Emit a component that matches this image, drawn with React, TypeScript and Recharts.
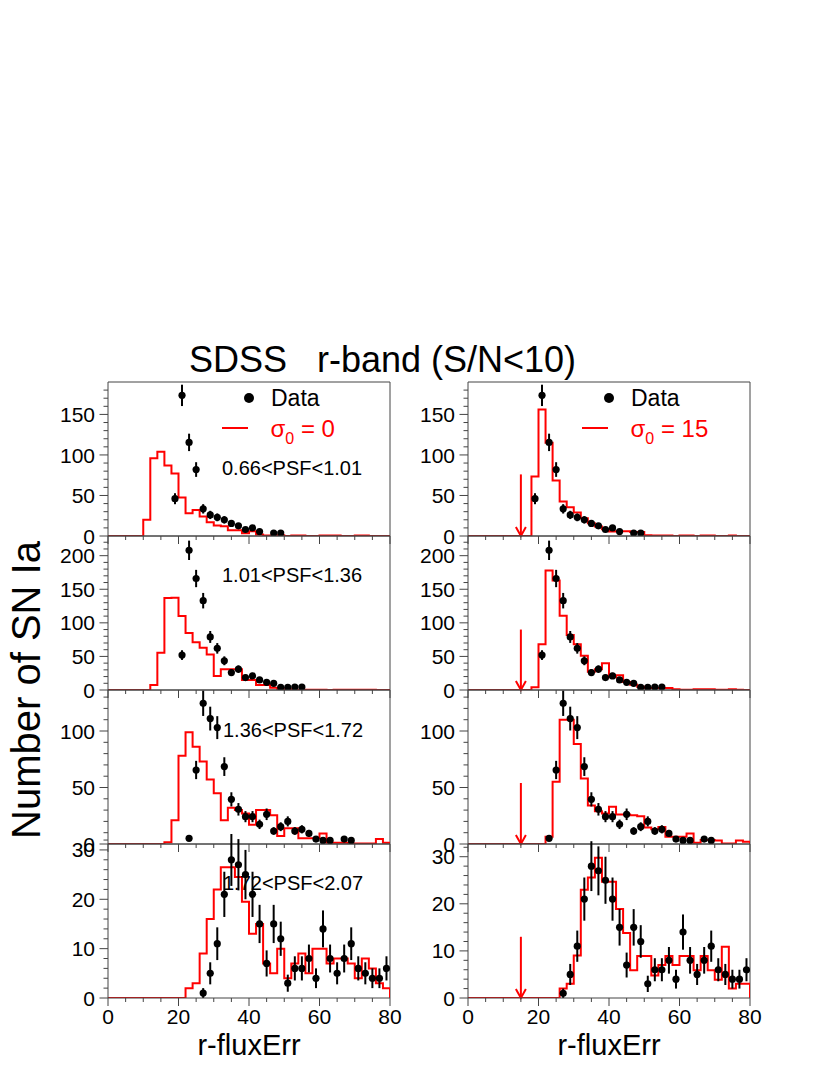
import React from 'react';
import { ComposedChart, Line, Scatter, ErrorBar, XAxis, YAxis, ReferenceLine } from 'recharts';

const FONT = '"Liberation Sans", Arial, Helvetica, sans-serif';

// bin edges (2-unit bins from 0 to 80)
const binEdges = [0, 2, 4, 6, 8, 10, 12, 14, 16, 18, 20, 22, 24, 26, 28, 30, 32, 34, 36, 38, 40,
  42, 44, 46, 48, 50, 52, 54, 56, 58, 60, 62, 64, 66, 68, 70, 72, 74, 76, 78, 80];

const xTicks = [0, 5, 10, 15, 20, 25, 30, 35, 40, 45, 50, 55, 60, 65, 70, 75, 80];
const xMajor = [0, 20, 40, 60, 80];

// ---- Row 1 : 0.66<PSF<1.01 ----
const histRow1Left = [0, 0, 0, 0, 0, 20, 96, 104, 87, 77, 47.5, 28, 32, 24, 17, 13, 12, 7, 7, 3.3,
  6, 2, 0.5, 0.5, 1, 0, 0.5, 0.5, 0, 0, 0.5, 0.5, 0.5, 0, 0, 0.5, 0.5, 0, 0, 0];
const histRow1Right = [0, 0, 0, 0, 0, 0, 0, 0, 0, 73.5, 156, 115, 68.5, 42.5, 35.5, 29, 22, 15.7, 11.6, 8.3,
  5.4, 6, 6, 5, 5, 1, 0.5, 0.5, 0.5, 0, 0.5, 0.5, 0, 0.5, 0.5, 0, 0, 0.5, 0, 0];
const dataRow1X = [19, 21, 23, 25, 27, 29, 31, 33, 35, 37, 39, 41, 43, 47, 49];
const dataRow1Y = [46, 173.5, 115.5, 82, 33.5, 26, 23, 20, 15.5, 12.5, 8, 10, 5.5, 3.7, 3.7];

// ---- Row 2 : 1.01<PSF<1.36 ----
const histRow2Left = [0, 0, 0, 0, 0, 0, 7.4, 55.6, 137, 137.5, 110, 85, 71, 63, 53, 21, 31, 31, 31, 15,
  15, 7.4, 7.4, 3.5, 1, 1, 0.5, 0.5, 0.5, 0.5, 0.5, 0, 0.5, 0.5, 0.5, 0.5, 0.5, 0.5, 0, 0];
const histRow2Right = [0, 0, 0, 0, 0, 0, 0, 0, 0, 4, 68, 178, 163, 110.5, 82, 68, 51, 27, 31, 40,
  19, 22, 12, 8, 5, 3, 3, 3, 3, 1, 0.5, 0.5, 1, 1, 1, 0.5, 0.5, 1, 0.5, 0];
const dataRow2X = [21, 23, 25, 27, 29, 31, 33, 35, 37, 39, 41, 43, 45, 47, 49, 51, 53, 55];
const dataRow2Y = [52, 208, 166, 133, 79, 62, 43.5, 26, 31, 18.5, 21, 15, 11.5, 10, 4, 4, 4.5, 4.5];

// ---- Row 3 : 1.36<PSF<1.72 ----
const histRow3Left = [0, 0, 0, 0, 0, 0, 0, 0, 1.5, 21, 78, 99, 86, 73, 57, 45, 21, 32, 30, 27,
  17, 30, 30, 25.5, 7, 14, 14, 5, 5, 5, 9.4, 1, 1, 1, 0.5, 0.5, 0.5, 0.5, 4.4, 1];
const histRow3Right = [0, 0, 0, 0, 0, 0, 0, 0, 0, 0, 0, 6.5, 55, 110, 110, 88.5, 58, 34, 29, 27,
  33, 26, 26, 25.5, 24.5, 14.5, 13, 15, 6.5, 6.5, 6.5, 9.4, 1, 3.5, 3.5, 3, 0.5, 0.5, 3, 2];
const dataRow3X = [23, 25, 27, 29, 31, 33, 35, 37, 39, 41, 43, 45, 47, 49, 51, 53, 55, 57, 59, 61, 63, 67, 69];
const dataRow3Y = [5, 65.5, 124.5, 111, 103, 68.5, 39.5, 30.7, 24.2, 24.2, 17.4, 26.3, 11.5, 15.3, 20, 11.5,
  13, 9.4, 4.4, 3.2, 3.2, 4.4, 3.2];

// ---- Row 4 : 1.72<PSF<2.07 ----
const histRow4Left = [0, 0, 0, 0, 0, 0, 0, 0, 0, 0, 0, 2, 3, 9, 16, 22, 26.5, 26.5, 24.5, 19.5,
  13, 15, 7, 5, 10, 4, 7, 9, 5, 10, 10, 7, 8, 8, 7, 4, 8, 6, 3, 2];
const histRow4Right = [0, 0, 0, 0, 0, 0, 0, 0, 0, 0, 0, 0, 0, 2, 3, 9, 23, 25.6, 29.8, 24.7,
  24.7, 18.9, 13.8, 5.9, 8.9, 8.9, 4.8, 7, 8.9, 7, 8.9, 8.9, 5.9, 8.9, 5.9, 3.9, 10.9, 2, 3, 3];
const dataRow4X = [27, 29, 31, 33, 35, 37, 39, 41, 43, 45, 47, 49, 51, 53, 55, 57, 59, 61, 63, 65, 67, 69,
  71, 73, 75, 77, 79];
const dataRow4Y = [1, 5, 11, 21, 28, 27, 25, 21, 15, 7, 15, 12, 3, 6, 6, 8, 4, 14, 8, 5, 8, 11, 6, 5, 4, 4, 6];

// y ticks per row
const yTicksRow1 = [0, 10, 20, 30, 40, 50, 60, 70, 80, 90, 100, 110, 120, 130, 140, 150, 160, 170, 180];
const yMajorRow1 = [0, 50, 100, 150];
const yTicksRow2 = [0, 10, 20, 30, 40, 50, 60, 70, 80, 90, 100, 110, 120, 130, 140, 150, 160, 170, 180, 190, 200, 210, 220];
const yMajorRow2 = [0, 50, 100, 150, 200];
const yTicksRow3 = [0, 10, 20, 30, 40, 50, 60, 70, 80, 90, 100, 110, 120, 130];
const yMajorRow3 = [0, 50, 100];
const yTicksRow4 = [0, 2, 4, 6, 8, 10, 12, 14, 16, 18, 20, 22, 24, 26, 28, 30, 32];
const yMajorRow4 = [0, 10, 20, 30];

const psfLabels = ['0.66<PSF<1.01', '1.01<PSF<1.36', '1.36<PSF<1.72', '1.72<PSF<2.07'];
const arrowX = 15;
const arrowTops = [76, 90, 54, 13];

const toSteps = (h: number[]) => [
  ...h.map((v, i) => ({ x: binEdges[i], y: v })),
  { x: binEdges[h.length], y: h[h.length - 1] },
  { x: binEdges[h.length], y: 0 },
];
const toPoints = (xs: number[], ys: number[]) => xs.map((x, i) => ({ x, y: ys[i], e: Math.sqrt(ys[i]) }));

const rowsSpec = [
  { hl: histRow1Left, hr: histRow1Right, dx: dataRow1X, dy: dataRow1Y, ticks: yTicksRow1, major: yMajorRow1, topL: 190, topR: 190 },
  { hl: histRow2Left, hr: histRow2Right, dx: dataRow2X, dy: dataRow2Y, ticks: yTicksRow2, major: yMajorRow2, topL: 229.3, topR: 229.3 },
  { hl: histRow3Left, hr: histRow3Right, dx: dataRow3X, dy: dataRow3Y, ticks: yTicksRow3, major: yMajorRow3, topL: 136.3, topR: 136.3 },
  { hl: histRow4Left, hr: histRow4Right, dx: dataRow4X, dy: dataRow4Y, ticks: yTicksRow4, major: yMajorRow4, topL: 31.2, topR: 32.7 },
];

const PLOT_W = 282;
const PLOT_H = 154;
const COL_LEFT = [108, 468];
const ROW_TOP = [382, 536, 690, 844];
const AXW = 1; // thin axis boxes (ticks are drawn by custom tick renderers)
const M = { top: 10, right: 22, bottom: 50, left: 75 };
const FRAME = '#444';

const makeYTick = (majors: number[]) => (props: any) => {
  const { x, y, payload } = props;
  const v = payload.value;
  const isMajor = majors.indexOf(v) >= 0;
  return (
    <g>
      <line x1={x} x2={x - (isMajor ? 8.5 : 4.5)} y1={y} y2={y} stroke={FRAME} strokeWidth={1} />
      {isMajor && (
        <text x={x - 13} y={y} dy="0.36em" textAnchor="end" fontSize={21} fontFamily={FONT} fill="#000">
          {v}
        </text>
      )}
    </g>
  );
};

const makeXTick = (showLabel: boolean) => (props: any) => {
  const { x, y, payload } = props;
  const v = payload.value;
  const isMajor = xMajor.indexOf(v) >= 0;
  return (
    <g>
      <line x1={x} x2={x} y1={y} y2={y + (isMajor ? 8 : 4)} stroke={FRAME} strokeWidth={1} />
      {showLabel && isMajor && (
        <text x={x} y={y + 26} textAnchor="middle" fontSize={21} fontFamily={FONT} fill="#000">
          {v}
        </text>
      )}
    </g>
  );
};

const ArrowShape = (p: any) => {
  const x = p.x1;
  const yb = Math.max(p.y1, p.y2);
  const yt = Math.min(p.y1, p.y2);
  return (
    <g>
      <line x1={x} x2={x} y1={yt} y2={yb - 1} stroke="#ff0000" strokeWidth={2} />
      <polyline points={`${x - 5},${yb - 9} ${x},${yb} ${x + 5},${yb - 9}`} fill="none" stroke="#ff0000" strokeWidth={2} />
    </g>
  );
};

const DotShape = (p: any) => <circle cx={p.cx} cy={p.cy} r={3.6} fill="#000" />;

function Panel({ row, col }: { row: number; col: number }) {
  const spec = rowsSpec[row];
  const hist = col === 0 ? spec.hl : spec.hr;
  const yTop = col === 0 ? spec.topL : spec.topR;
  const steps = toSteps(hist);
  const pts = toPoints(spec.dx, spec.dy);
  const isBottom = row === 3;
  const margin = { top: M.top, right: M.right, bottom: M.bottom - AXW, left: M.left - AXW };
  return (
    <div style={{ position: 'absolute', left: COL_LEFT[col] - M.left, top: ROW_TOP[row] - M.top }}>
      <ComposedChart width={PLOT_W + M.left + M.right} height={PLOT_H + M.top + M.bottom} margin={margin}>
        <XAxis
          dataKey="x"
          type="number"
          domain={[0, 80]}
          allowDataOverflow
          ticks={xTicks}
          interval={0}
          height={AXW}
          tickSize={0}
          tickMargin={0}
          tickLine={false}
          axisLine={{ stroke: FRAME, strokeWidth: 1 }}
          tick={makeXTick(isBottom)}
        />
        <YAxis
          type="number"
          domain={[0, yTop]}
          allowDataOverflow
          ticks={spec.ticks}
          interval={0}
          width={AXW}
          tickSize={0}
          tickMargin={0}
          tickLine={false}
          axisLine={{ stroke: FRAME, strokeWidth: 1 }}
          tick={makeYTick(spec.major)}
        />
        <ReferenceLine y={yTop} stroke={FRAME} strokeWidth={1} ifOverflow="visible" />
        <ReferenceLine x={80} stroke={FRAME} strokeWidth={1} ifOverflow="visible" />
        <Line
          data={steps}
          dataKey="y"
          type="stepAfter"
          stroke="#ff0000"
          strokeWidth={2}
          dot={false}
          activeDot={false}
          isAnimationActive={false}
        />
        {col === 1 && (
          <ReferenceLine
            segment={[{ x: arrowX, y: 0 }, { x: arrowX, y: arrowTops[row] }]}
            stroke="#ff0000"
            strokeWidth={2}
            shape={ArrowShape}
          />
        )}
        <Scatter data={pts} dataKey="y" fill="#000" shape={DotShape} isAnimationActive={false}>
          <ErrorBar dataKey="e" direction="y" width={0} stroke="#000" strokeWidth={2} isAnimationActive={false} />
        </Scatter>
      </ComposedChart>
    </div>
  );
}

export default function App() {
  return (
    <div style={{ position: 'absolute', left: 0, top: 0, width: 830, height: 1075, background: '#fff', overflow: 'hidden' }}>
      {[0, 1, 2, 3].map((r) => (
        <React.Fragment key={r}>
          <Panel row={r} col={0} />
          <Panel row={r} col={1} />
        </React.Fragment>
      ))}
      <svg width={830} height={1075} style={{ position: 'absolute', left: 0, top: 0, pointerEvents: 'none' }} fontFamily={FONT}>
        <text x={382.5} y={372} fontSize={36} textAnchor="middle" style={{ whiteSpace: 'pre' }} fill="#000">
          {'SDSS   r-band (S/N<10)'}
        </text>
        <text x={40} y={690} fontSize={40} textAnchor="middle" transform="rotate(-90 40 690)" fill="#000">
          Number of SN Ia
        </text>
        <text x={249} y={1055} fontSize={29} textAnchor="middle" fill="#000">r-fluxErr</text>
        <text x={609} y={1055} fontSize={29} textAnchor="middle" fill="#000">r-fluxErr</text>

        {/* legends */}
        <circle cx={249} cy={398} r={5} fill="#000" />
        <text x={271} y={405.5} fontSize={23} fill="#000">Data</text>
        <line x1={222} x2={248} y1={428} y2={428} stroke="#ff0000" strokeWidth={2} />
        <text x={270.5} y={437} fontSize={24} fill="#ff0000">
          σ<tspan dy={7} fontSize={16}>0</tspan><tspan dy={-7}> = 0</tspan>
        </text>

        <circle cx={609} cy={398} r={5} fill="#000" />
        <text x={631} y={405.5} fontSize={23} fill="#000">Data</text>
        <line x1={582} x2={608} y1={428} y2={428} stroke="#ff0000" strokeWidth={2} />
        <text x={630.5} y={437} fontSize={24} fill="#ff0000">
          σ<tspan dy={7} fontSize={16}>0</tspan><tspan dy={-7}> = 15</tspan>
        </text>

        <text x={222} y={475} fontSize={20} fill="#000">{psfLabels[0]}</text>
        <text x={222} y={582} fontSize={20} fill="#000">{psfLabels[1]}</text>
        <text x={223} y={737} fontSize={20} fill="#000">{psfLabels[2]}</text>
        <text x={223} y={890} fontSize={20} fill="#000">{psfLabels[3]}</text>
      </svg>
    </div>
  );
}
